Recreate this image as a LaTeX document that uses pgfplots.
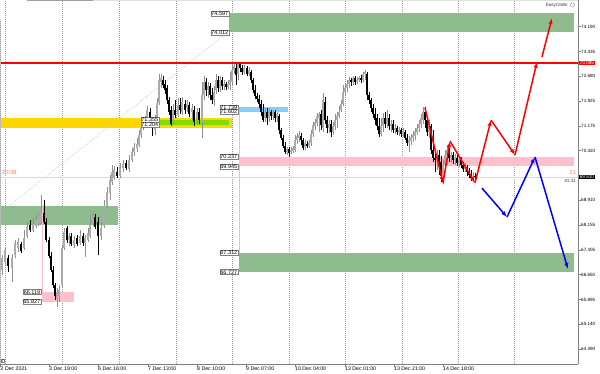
\documentclass[border=0pt]{standalone}
\usepackage{pgfplots}
\pgfplotsset{compat=1.18}
\usepackage{pgfplotstable}
\usepackage{fontspec}
\setmainfont{Liberation Sans}
\usetikzlibrary{arrows.meta}

\definecolor{zgreen}{HTML}{8FBC8F}
\definecolor{zpink}{HTML}{FFC0CB}
\definecolor{zgold}{HTML}{FFD700}
\definecolor{zlime}{HTML}{7FDD00}
\definecolor{zblue}{HTML}{87CEFA}
\definecolor{bullc}{HTML}{ABABAB}
\definecolor{bullw}{HTML}{909090}
\definecolor{coral}{HTML}{FF7F50}
\definecolor{axgray}{HTML}{808080}
\definecolor{diag}{HTML}{A8D8A8}
\definecolor{vgreen}{HTML}{B8DDB8}
\definecolor{resred}{HTML}{FF0000}
\newcommand\fs[1]{\fontsize{#1}{#1}\selectfont}
\tikzset{zl/.style={draw=gray, fill=white, inner sep=0.6pt, font=\fs{5.5}},
  arr/.style={line width=1.5pt, -{Latex[length=6pt,width=4.5pt]}}}

\pgfplotstableread{
x o h l c
2 66.79 67.25 66.64 67.16
5 67.04 67.49 66.94 67.40
12 66.85 67.28 66.43 67.16
15 67.25 67.70 67.16 67.61
18 67.46 67.76 67.34 67.67
24 67.46 68.01 67.40 67.76
27 67.83 68.25 67.76 68.10
33 68.01 68.37 67.95 68.19
36 68.13 68.43 68.07 68.31
38 68.19 68.52 68.13 68.46
41 68.25 69.07 68.19 68.52
57 65.94 66.24 65.67 66.12
59 66.00 66.34 65.82 66.18
62 66.34 67.55 66.24 67.46
64 67.46 68.07 67.40 67.95
69 67.70 67.92 67.52 67.83
74 67.55 67.83 67.46 67.70
80 67.61 68.01 67.55 67.83
85 67.61 67.86 67.19 67.76
88 67.70 68.07 67.64 67.92
90 67.83 68.46 67.76 68.16
93 68.19 68.52 68.13 68.43
101 67.83 68.25 67.70 68.07
104 68.13 68.92 68.07 68.74
107 68.74 69.32 68.68 69.16
110 69.13 69.68 68.92 69.53
112 69.47 69.98 69.38 69.77
114 69.59 69.95 69.53 69.83
120 69.65 70.04 69.59 69.89
123 69.89 70.14 69.77 70.01
129 69.86 70.29 69.77 70.14
132 70.14 70.50 70.08 70.38
134 70.38 70.65 70.26 70.53
137 70.50 70.80 70.38 70.62
139 70.59 71.05 70.53 70.90
141 70.90 71.20 70.80 71.11
143 71.11 71.41 71.05 71.29
145 71.23 71.47 71.11 71.35
147 71.35 71.78 71.29 71.66
155 71.05 71.50 70.90 71.35
157 71.41 72.02 71.29 71.87
159 71.87 72.75 71.81 72.57
161 72.51 72.75 72.32 72.63
173 71.29 71.84 71.20 71.66
178 71.50 72.02 71.44 71.81
182 71.60 72.05 71.50 71.90
187 71.72 71.96 71.60 71.84
192 71.60 71.84 71.35 71.72
197 71.35 71.72 71.23 71.60
202 71.29 72.51 70.80 72.11
204 72.11 72.69 71.96 72.51
208 72.26 72.51 72.02 72.39
214 71.96 72.39 71.78 72.20
216 72.26 72.75 72.14 72.57
220 72.32 72.69 72.20 72.57
224 72.39 72.57 72.26 72.45
228 72.36 72.57 72.29 72.45
230 72.42 72.81 72.26 72.57
232 72.51 73.05 72.42 72.87
234 72.87 73.12 72.75 72.99
238 72.75 73.12 72.57 73.05
244 72.81 73.02 72.75 72.93
249 72.75 72.96 72.69 72.87
265 71.41 71.72 71.29 71.60
269 71.41 71.72 71.29 71.60
273 71.47 71.66 71.35 71.60
277 71.41 71.60 71.29 71.53
287 70.38 70.53 70.29 70.47
291 70.38 70.53 70.32 70.44
293 70.41 70.56 70.35 70.50
295 70.44 70.90 70.38 70.74
297 70.74 70.96 70.62 70.87
299 70.80 71.02 70.68 70.90
305 70.53 70.74 70.44 70.65
309 70.56 70.74 70.50 70.65
311 70.65 71.05 70.56 70.93
313 70.93 71.29 70.84 71.20
315 71.17 71.38 71.05 71.29
317 71.26 71.56 71.17 71.47
319 71.41 71.60 70.99 71.53
323 71.11 72.17 70.99 71.96
329 71.11 71.35 70.96 71.23
333 70.99 71.29 70.90 71.17
335 71.17 71.53 71.05 71.35
337 71.35 71.60 71.11 71.47
339 71.47 71.78 71.41 71.60
341 71.66 71.96 71.60 71.84
343 71.84 72.42 71.78 72.20
345 72.20 72.45 72.08 72.32
347 72.32 72.57 72.20 72.45
349 72.45 72.66 72.32 72.57
353 72.51 72.69 72.42 72.63
357 72.51 72.66 72.45 72.57
359 72.57 72.69 72.51 72.63
363 72.57 72.81 72.51 72.75
365 72.75 72.87 72.57 72.81
381 70.93 71.41 70.87 71.17
383 71.17 71.56 70.99 71.41
387 71.23 71.66 71.11 71.41
391 71.17 71.35 70.99 71.23
395 71.05 71.23 70.93 71.11
399 70.99 71.14 70.87 71.05
403 70.93 71.11 70.84 71.02
409 70.65 70.87 70.38 70.74
411 70.71 70.93 70.59 70.80
413 70.80 71.02 70.68 70.90
415 70.87 71.11 70.74 70.99
417 70.99 71.23 70.90 71.11
419 71.11 71.35 70.99 71.23
421 71.23 71.53 71.11 71.41
423 71.35 71.75 71.23 71.60
429 70.99 71.35 70.80 71.17
437 70.20 70.44 69.83 70.29
443 69.65 70.14 69.41 69.98
445 69.98 70.44 69.83 70.29
447 70.29 70.59 69.98 70.44
451 70.20 70.38 70.04 70.29
455 70.14 70.32 69.98 70.20
459 70.04 70.23 69.92 70.14
465 69.86 70.04 69.77 69.95
473 69.59 69.77 69.47 69.65
}\bull

\pgfplotstableread{
x o h l c
8 67.16 67.25 66.73 66.91
21 67.58 67.64 67.31 67.37
30 68.16 68.31 67.95 68.01
44 68.52 68.92 68.19 68.25
46 68.25 68.37 67.64 67.70
49 67.70 67.80 67.16 67.22
51 67.22 67.34 66.73 66.79
53 66.79 66.91 66.24 66.34
55 66.34 66.40 65.88 66.00
67 68.07 68.13 67.61 67.70
71 67.83 67.92 67.52 67.58
77 67.76 67.86 67.52 67.58
83 67.83 67.92 67.52 67.61
95 68.40 68.49 68.04 68.10
98 68.25 68.40 67.25 67.83
117 69.77 69.92 69.59 69.65
126 70.04 70.14 69.83 69.89
150 71.60 71.72 71.29 71.41
152 71.29 71.41 70.87 71.11
163 72.57 72.69 72.32 72.42
165 72.45 72.57 72.14 72.26
167 72.32 72.42 71.84 71.96
169 71.96 72.05 71.50 71.60
171 71.66 71.78 71.17 71.23
175 71.66 71.96 71.41 71.50
180 71.81 72.02 71.53 71.66
185 71.84 71.96 71.53 71.66
189 71.81 71.90 71.44 71.53
194 71.66 71.78 71.17 71.29
199 71.60 71.72 71.23 71.35
206 72.51 72.63 72.08 72.26
210 72.39 72.48 71.96 72.11
212 72.11 72.32 71.84 71.96
218 72.57 72.69 72.20 72.32
222 72.57 72.66 72.26 72.39
226 72.45 72.51 72.26 72.36
236 72.93 73.12 72.42 72.72
240 73.05 73.12 72.81 72.93
242 72.93 73.02 72.72 72.81
247 72.93 72.99 72.69 72.75
251 72.81 72.87 72.48 72.57
253 72.57 72.63 72.17 72.26
255 72.26 72.42 71.99 72.08
257 72.08 72.17 71.90 71.99
259 71.99 72.11 71.72 71.84
261 71.84 71.96 71.47 71.60
263 71.60 71.84 71.29 71.35
267 71.60 71.72 71.20 71.41
271 71.60 71.66 71.35 71.47
275 71.60 71.66 71.29 71.41
279 71.47 71.53 70.93 71.05
281 71.05 71.11 70.74 70.80
283 70.80 70.90 70.50 70.56
285 70.56 70.68 70.32 70.38
289 70.47 70.53 70.23 70.35
301 70.87 70.96 70.59 70.74
303 70.74 70.80 70.44 70.50
307 70.62 70.71 70.50 70.56
321 71.53 71.66 71.05 71.20
325 71.90 72.05 71.23 71.35
327 71.35 71.47 70.96 71.11
331 71.23 71.35 70.84 70.99
351 72.57 72.63 72.39 72.51
355 72.63 72.69 72.42 72.51
361 72.63 72.72 72.48 72.57
367 72.75 72.81 71.96 72.11
369 72.11 72.20 71.84 71.96
371 71.96 72.02 71.60 71.72
373 71.72 71.84 71.41 71.53
375 71.53 71.72 71.20 71.35
377 71.41 71.53 71.05 71.17
379 71.17 71.41 70.84 70.93
385 71.41 71.60 71.11 71.23
389 71.41 71.53 71.05 71.17
393 71.23 71.35 70.96 71.05
397 71.11 71.17 70.90 70.99
401 71.05 71.11 70.84 70.93
405 70.99 71.05 70.74 70.80
407 70.80 70.93 70.56 70.65
425 71.60 71.75 71.11 71.35
427 71.35 71.47 70.87 70.99
431 71.17 71.23 70.32 70.44
433 70.44 71.05 70.08 70.20
435 70.20 70.44 69.77 70.14
439 70.29 70.44 69.68 70.08
441 70.08 70.26 69.47 69.65
449 70.38 70.50 70.08 70.20
453 70.29 70.38 70.01 70.14
457 70.20 70.29 69.95 70.04
461 70.14 70.23 69.89 69.98
463 69.98 70.08 69.77 69.86
467 69.92 69.98 69.65 69.77
469 69.77 69.89 69.59 69.68
471 69.71 69.83 69.50 69.59
475 69.65 69.74 69.53 69.62
}\bear

\begin{document}
\begin{tikzpicture}
\begin{axis}[
  name=ax,
  scale only axis, width=578pt, height=364pt,
  xmin=0, xmax=578, ymin=63.934, ymax=75.0,
  clip=false,
  axis x line=bottom, axis y line=right,
  axis line style={-, draw=axgray, line width=0.6pt},
  every outer x axis line/.append style={-},
  every outer y axis line/.append style={-},
  tick align=outside, major tick length=2.5pt,
  tick style={axgray, line width=0.5pt},
  xtick={0.5,49,98,148,197,246,295,345,394,443},
  xticklabels={2 Dec 2021,3 Dec 19:00,6 Dec 16:00,7 Dec 13:00,8 Dec 10:00,9 Dec 07:00,10 Dec 04:00,13 Dec 01:00,13 Dec 21:00,14 Dec 18:00},
  xticklabel style={anchor=north west, inner sep=0pt, font=\fs{5.2}, yshift=-0.5pt},
  ytick={74.190,73.435,72.680,71.925,71.175,70.420,68.910,68.155,67.405,66.650,65.895,65.140,64.390},
  yticklabels={74.190,73.435,72.680,71.925,71.175,70.420,68.910,68.155,67.405,66.650,65.895,65.140,64.390},
  yticklabel style={anchor=west, inner sep=0pt, font=\fs{4.6}, xshift=0.5pt},
  extra x ticks={5,62,119,176,232,289,345,402,458,514},
  extra x tick labels={},
  extra x tick style={grid=major, major tick length=0pt,
    major grid style={axgray!80, dash pattern=on 1pt off 1pt, line width=0.5pt}},
]
% zones
\addplot[fill=zgold, draw=none] coordinates {(0,71.41) (232,71.41) (232,71.11) (0,71.11)};
\addplot[fill=zlime, draw=none] coordinates {(160,71.35) (229,71.35) (229,71.20) (160,71.20)};
\addplot[fill=zblue, draw=none] coordinates {(239,71.75) (288,71.75) (288,71.60) (239,71.60)};
\addplot[fill=zgreen, draw=none] coordinates {(229,74.597) (574,74.597) (574,74.012) (229,74.012)};
\addplot[fill=zgreen, draw=none] coordinates {(239,67.312) (574,67.312) (574,66.727) (239,66.727)};
\addplot[fill=zgreen, draw=none] coordinates {(0,68.74) (118,68.74) (118,68.16) (0,68.16)};
\addplot[fill=zpink, draw=none] coordinates {(239,70.237) (574,70.237) (574,69.945) (239,69.945)};
\addplot[fill=zpink, draw=none] coordinates {(42,66.119) (74,66.119) (74,65.827) (42,65.827)};
% thin guide lines
\addplot[diag, line width=0.45pt, dash pattern=on 1.2pt off 1pt] coordinates {(10,68.77) (227,74.00)};
\addplot[zpink, line width=0.5pt] coordinates {(42,68.77) (42,66.119)};
\addplot[vgreen, line width=0.6pt] coordinates {(239,71.60) (239,67.312)};
\addplot[gray!30, line width=0.6pt] coordinates {(0,69.62) (578,69.62)};
% candles: wicks
\addplot[draw=none, mark=none, error bars/.cd, y dir=plus, y explicit, error mark=none,
  error bar style={draw=bullw, line width=0.6pt}]
  table[x=x, y=l, y error expr=\thisrow{h}-\thisrow{l}] {\bull};
\addplot[draw=none, mark=none, error bars/.cd, y dir=plus, y explicit, error mark=none,
  error bar style={draw=black, line width=0.6pt}]
  table[x=x, y=l, y error expr=\thisrow{h}-\thisrow{l}] {\bear};
% candles: bodies
\addplot[draw=none, mark=none, error bars/.cd, y dir=plus, y explicit, error mark=none,
  error bar style={draw=bullc, line width=1.5pt}]
  table[x=x, y=o, y error expr=\thisrow{c}-\thisrow{o}] {\bull};
\addplot[draw=none, mark=none, error bars/.cd, y dir=plus, y explicit, error mark=none,
  error bar style={draw=black, line width=1.5pt}]
  table[x=x, y=c, y error expr=\thisrow{o}-\thisrow{c}] {\bear};
% resistance line
\addplot[draw=resred, color=resred, line width=1.1pt] coordinates {(0,73.085) (578,73.085)};
% red scenario
\addplot[red, arr] coordinates {(425,71.72) (443,69.44)};
\addplot[red, arr] coordinates {(443,69.44) (450,70.71)};
\addplot[red, arr] coordinates {(450,70.71) (475,69.44)};
\addplot[red, arr] coordinates {(475,69.44) (491,71.35)};
\addplot[red, arr] coordinates {(491,71.35) (515,70.29)};
\addplot[red, arr] coordinates {(515,70.29) (537,73.12)};
\addplot[red, arr] coordinates {(542,73.27) (552,74.45)};
% blue scenario
\addplot[blue, arr] coordinates {(482,69.28) (507,68.40)};
\addplot[blue, arr] coordinates {(507,68.40) (535,70.23)};
\addplot[blue, arr] coordinates {(535,70.23) (568,66.82)};
% frame decorations
\draw[gray!75, line width=1pt] (axis cs:27,74.98) -- (axis cs:93,74.98);
\draw[gray!25, line width=1pt] (axis cs:93,74.98) -- (axis cs:578,74.98);
\draw[gray!55, line width=0.5pt] (axis cs:0.3,74.40) -- (axis cs:0.3,63.934);
% zone labels
\node[zl, anchor=east] at (axis cs:229,74.597) {74.597};
\node[zl, anchor=east] at (axis cs:229,74.012) {74.012};
\node[zl, anchor=east] at (axis cs:238,70.237) {70.237};
\node[zl, anchor=east] at (axis cs:238,69.945) {69.945};
\node[zl, anchor=east] at (axis cs:238,67.312) {67.312};
\node[zl, anchor=east] at (axis cs:238,66.727) {66.727};
\node[zl, anchor=east] at (axis cs:41,66.119) {66.119};
\node[zl, anchor=east] at (axis cs:41,65.827) {65.827};
\node[zl, anchor=east] at (axis cs:238,71.739) {71.739};
\node[zl, anchor=east] at (axis cs:238,71.602) {71.602};
\node[zl, anchor=east] at (axis cs:159,71.355) {71.355};
\node[zl, anchor=east] at (axis cs:159,71.204) {71.204};
% price boxes on the right scale
\node[fill=red, text=white, inner sep=0.7pt, font=\fs{4.6}, anchor=west] at (axis cs:579,73.085) {73.085};
\node[fill=black, text=white, inner sep=0.7pt, font=\fs{4.6}, anchor=west] at (axis cs:579,69.62) {69.610};
% misc texts
\node[font=\fs{4.6}, text=black!80, anchor=east, inner sep=0pt] at (axis cs:568,74.85) {EasyOrder};
\draw[gray, line width=0.4pt] (axis cs:572.5,74.85) circle (2.1pt);
\node[font=\fs{5.8}, text=coral, anchor=west, inner sep=0pt] at (axis cs:2,69.77) {20/38};
\node[font=\fs{5.8}, text=coral, anchor=east, inner sep=0pt] at (axis cs:576,69.77) {21};
\node[font=\fs{4.6}, text=black!80, anchor=east, inner sep=0pt] at (axis cs:576,69.50) {41:31};
\node[draw=gray, font=\fs{4}, inner sep=0.5pt, anchor=south west] at (axis cs:1,63.97) {7};
\end{axis}
\pgfresetboundingbox
\path[use as bounding box] ([yshift=-9pt]ax.south west) rectangle ([xshift=22pt]ax.north east);
\end{tikzpicture}
\end{document}
